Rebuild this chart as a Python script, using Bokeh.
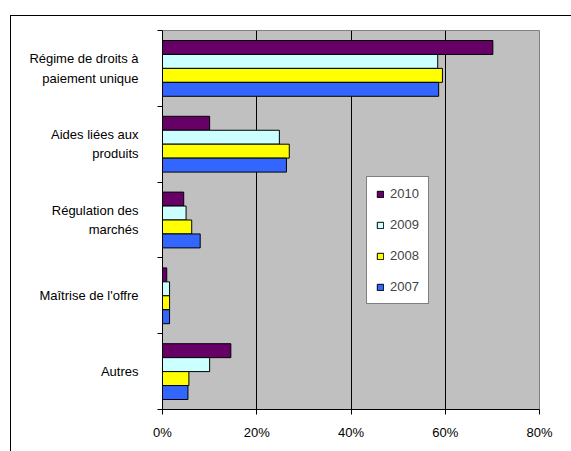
from bokeh.plotting import figure
from bokeh.models import ColumnDataSource, Range1d, FixedTicker, Legend, LegendItem
from bokeh.transform import dodge
from bokeh.embed import file_html
from bokeh.resources import INLINE

# ---- data (percent shares) ----
categories = ["Régime de droits à\npaiement unique", "Aides liées aux\nproduits",
              "Régulation des\nmarchés", "Maîtrise de l'offre", "Autres"]
years = ["2010", "2009", "2008", "2007"]
v2010 = [70.1, 10.0, 4.5, 0.9, 14.5]
v2009 = [58.4, 24.8, 5.0, 1.5, 10.0]
v2008 = [59.4, 26.9, 6.2, 1.5, 5.6]
v2007 = [58.6, 26.3, 8.0, 1.5, 5.4]
x_ticks = [0, 20, 40, 60, 80]
x_tick_labels = ["0%", "20%", "40%", "60%", "80%"]

colors = ["#660066", "#CCFFFF", "#FFFF00", "#3366FF"]
FONT = "Liberation Sans"
FS = "13px"

pos = [i + 0.5 for i in range(len(categories))]
source = ColumnDataSource(dict(pos=pos, cat=categories, v2010=v2010, v2009=v2009,
                               v2008=v2008, v2007=v2007))

# figure placed at (10, 15) in the window, with a border on its top/left edges
p = figure(width=561, height=436, output_backend="svg", toolbar_location=None,
           x_range=Range1d(0, 80), y_range=Range1d(len(categories), 0),
           min_border_left=151, min_border_right=33, min_border_top=14, min_border_bottom=43,
           margin=(15, 0, 0, 10),
           styles={"border-left": "1px solid black", "border-top": "1px solid black"})

p.background_fill_color = "#C0C0C0"
p.border_fill_color = "white"
p.outline_line_color = "#808080"
p.outline_line_width = 1

bar_h = 0.184
offsets = [-1.5 * bar_h, -0.5 * bar_h, 0.5 * bar_h, 1.5 * bar_h]
items = []
for yr, col, off in zip(years, colors, offsets):
    r = p.hbar(y=dodge("pos", off), right="v" + yr, left=0, height=bar_h, source=source,
               fill_color=col, line_color="black", line_width=1)
    items.append(LegendItem(label=yr, renderers=[r]))

# x axis
p.xaxis.ticker = FixedTicker(ticks=x_ticks)
p.xaxis.major_label_overrides = {t: l for t, l in zip(x_ticks, x_tick_labels)}
p.xaxis.major_tick_out = 5
p.xaxis.major_tick_in = 0
p.xaxis.minor_tick_line_color = None
p.xaxis.axis_line_color = "black"
p.xaxis.major_label_standoff = 10
p.xaxis.major_label_text_font = FONT
p.xaxis.major_label_text_font_size = FS
p.xaxis.major_label_text_color = "black"

# y axis: labels at category centers, ticks at boundaries
p.yaxis.ticker = FixedTicker(ticks=pos, minor_ticks=list(range(len(categories) + 1)))
p.yaxis.major_label_overrides = {pp: c for pp, c in zip(pos, categories)}
p.yaxis.major_tick_line_color = None
p.yaxis.minor_tick_out = 5
p.yaxis.minor_tick_in = 0
p.yaxis.minor_tick_line_color = "black"
p.yaxis.axis_line_color = "black"
p.yaxis.major_label_standoff = 18
p.yaxis.major_label_text_font = FONT
p.yaxis.major_label_text_font_size = FS
p.yaxis.major_label_text_color = "black"
p.yaxis.major_label_text_line_height = 1.3

p.xgrid.grid_line_color = "black"
p.xgrid.grid_line_width = 1
p.xgrid.ticker = FixedTicker(ticks=x_ticks)
p.ygrid.grid_line_color = None

legend = Legend(items=items, location=(204, 105), glyph_width=8, glyph_height=8,
                label_height=11, spacing=16, padding=9, label_standoff=6,
                label_text_font=FONT, label_text_font_size=FS,
                border_line_color="black", border_line_width=1,
                background_fill_color="white", background_fill_alpha=1.0)
p.add_layout(legend)

open("out.html", "w").write(file_html(p, INLINE))
